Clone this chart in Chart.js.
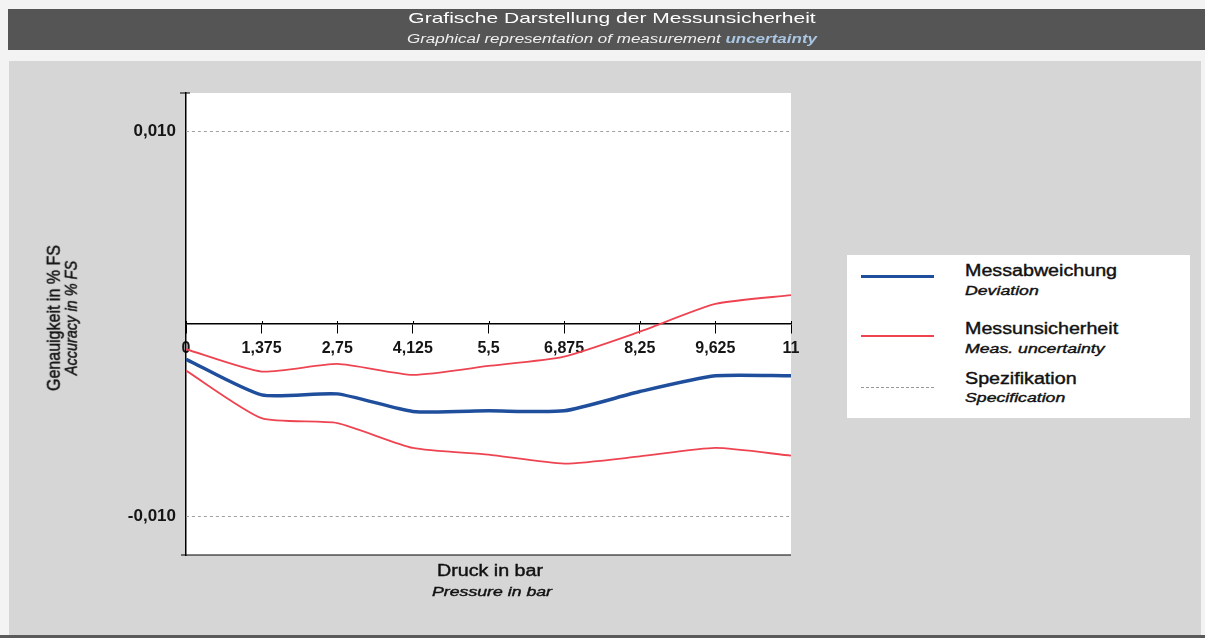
<!DOCTYPE html>
<html>
<head>
<meta charset="utf-8">
<script src="https://cdn.jsdelivr.net/npm/chart.js@4.4.0/dist/chart.umd.min.js"></script>
<style>
  html, body { margin: 0; padding: 0; }
  body {
    width: 1205px; height: 638px; overflow: hidden; position: relative;
    background: #f3f3f3; font-family: "Liberation Sans", Arial, sans-serif; color: #111;
  }
  .abs { position: absolute; white-space: nowrap; }
  #band { left: 8px; top: 9px; width: 1197px; height: 41px; background: #555; }
  #panel { left: 9px; top: 61px; width: 1192px; height: 574px; background: #d6d6d6; }
  #bottomline { left: 0; top: 635px; width: 1205px; height: 3px; background: #5a5a5a; }
  #chart { position: absolute; left: 0; top: 0; z-index: 1; }
  .txt { z-index: 2; line-height: 1; }
  .wide { display: inline-block; }
  .dark { -webkit-text-stroke: 0.4px #111; }
  .centered { transform: translateX(-50%); }
  #legend { left: 847px; top: 255px; width: 343px; height: 163px; background: #fff; z-index: 1; }
  .sample { position: absolute; left: 861px; width: 73px; z-index: 2; }
  #ytitle {
    left: 62px; top: 318px; z-index: 2; text-align: center;
    transform: translate(-50%, -50%) rotate(-90deg) scaleY(1.2);
  }
  #ytitle div { line-height: 15px; white-space: nowrap; }
</style>
</head>
<body>
<div id="band" class="abs"></div>
<div id="panel" class="abs"></div>
<div id="bottomline" class="abs"></div>

<div class="abs txt centered" style="left:612px; top:10px;">
  <span class="wide" style="font-size:15px; color:#fff; transform:scaleX(1.4);">Grafische Darstellung der Messunsicherheit</span>
</div>
<div class="abs txt centered" style="left:612px; top:30px;">
  <span class="wide" style="font-size:12.5px; font-style:italic; color:#f0f0f0; transform:scaleX(1.36);">Graphical representation of measurement <b style="color:#aac6e2;">uncertainty</b></span>
</div>

<canvas id="chart" width="1205" height="638"></canvas>

<div id="ytitle" class="abs">
  <div class="dark" style="font-size:16px;">Genauigkeit in % FS</div>
  <div class="dark" style="font-size:14.5px; font-style:italic;">Accuracy in % FS</div>
</div>

<div class="abs txt centered" style="left:490px; top:563px;">
  <span class="wide dark" style="font-size:16px; transform:scaleX(1.23);">Druck in bar</span>
</div>
<div class="abs txt centered" style="left:492px; top:583px;">
  <span class="wide dark" style="font-size:13.5px; font-style:italic; transform:scaleX(1.31);">Pressure in bar</span>
</div>

<div id="legend" class="abs"></div>
<div class="sample" style="top:275px; border-top:3.5px solid #1f4f9c;"></div>
<div class="sample" style="top:335px; border-top:2px solid #ee4452;"></div>
<div class="sample" style="top:387px; border-top:1px dashed #999;"></div>

<div class="abs txt" style="left:965px; top:263px;">
  <span class="wide dark" style="font-size:16px; transform:scaleX(1.23); transform-origin:left;">Messabweichung</span>
</div>
<div class="abs txt" style="left:965px; top:282px;">
  <span class="wide dark" style="font-size:13.5px; font-style:italic; transform:scaleX(1.31); transform-origin:left;">Deviation</span>
</div>
<div class="abs txt" style="left:965px; top:321px;">
  <span class="wide dark" style="font-size:16px; transform:scaleX(1.23); transform-origin:left;">Messunsicherheit</span>
</div>
<div class="abs txt" style="left:965px; top:340px;">
  <span class="wide dark" style="font-size:13.5px; font-style:italic; transform:scaleX(1.31); transform-origin:left;">Meas. uncertainty</span>
</div>
<div class="abs txt" style="left:965px; top:371px;">
  <span class="wide dark" style="font-size:16px; transform:scaleX(1.23); transform-origin:left;">Spezifikation</span>
</div>
<div class="abs txt" style="left:965px; top:389px;">
  <span class="wide dark" style="font-size:13.5px; font-style:italic; transform:scaleX(1.31); transform-origin:left;">Specification</span>
</div>

<script>
// Pressure points (bar) and their axis labels
const pressure = [0, 1.375, 2.75, 4.125, 5.5, 6.875, 8.25, 9.625, 11];
const xTickLabels = ['0', '1,375', '2,75', '4,125', '5,5', '6,875', '8,25', '9,625', '11'];

// Accuracy in % FS
const deviation = [-0.00183, -0.00368, -0.00363, -0.00454, -0.00451, -0.00451, -0.00351, -0.00269, -0.00269];
const uncertaintyUpper = [-0.00131, -0.00247, -0.00207, -0.00264, -0.00218, -0.00169, -0.00040, 0.00104, 0.00150];
const uncertaintyLower = [-0.00242, -0.00489, -0.00515, -0.00644, -0.00679, -0.00725, -0.00688, -0.00644, -0.00684];

// Specification limits
const specPressure = [0, 11];
const specUpper = [0.010, 0.010];
const specLower = [-0.010, -0.010];

const yTickValues = [-0.010, 0.010];
const yTickLabels = ['-0,010', '0,010'];

const toPoints = (xs, ys) => xs.map((x, i) => ({ x: x, y: ys[i] }));

// white plot area plus the black frame pieces
const plotFrame = {
  id: 'plotFrame',
  beforeDraw(chart) {
    const { ctx, chartArea: a } = chart;
    ctx.save();
    ctx.fillStyle = '#fff';
    ctx.fillRect(a.left, a.top, a.right - a.left, a.bottom - a.top);
    ctx.restore();
  },
  afterDraw(chart) {
    const { ctx, chartArea: a, scales } = chart;
    ctx.save();
    ctx.strokeStyle = '#000';
    ctx.lineWidth = 1.5;
    ctx.beginPath();
    ctx.moveTo(a.left - 5, a.bottom);
    ctx.lineTo(a.right, a.bottom);
    ctx.moveTo(a.left - 6, a.top);
    ctx.lineTo(a.left + 4, a.top);
    // tick marks poke a little above the zero line too
    const y0 = scales.y.getPixelForValue(0);
    ctx.lineWidth = 1;
    pressure.forEach(p => {
      const x = Math.round(scales.x.getPixelForValue(p)) + 0.5;
      ctx.moveTo(x, y0 - 3);
      ctx.lineTo(x, y0);
    });
    ctx.stroke();
    ctx.restore();
  }
};

const lineStyle = { pointRadius: 0, fill: false, tension: 0.2 };

new Chart(document.getElementById('chart'), {
  type: 'line',
  data: {
    datasets: [
      Object.assign({ label: 'Messabweichung', data: toPoints(pressure, deviation),
        borderColor: '#1f4f9c', borderWidth: 3.5 }, lineStyle),
      Object.assign({ label: 'Messunsicherheit', data: toPoints(pressure, uncertaintyUpper),
        borderColor: '#ee4452', borderWidth: 1.8 }, lineStyle),
      Object.assign({ label: 'Messunsicherheit', data: toPoints(pressure, uncertaintyLower),
        borderColor: '#ee4452', borderWidth: 1.8 }, lineStyle),
      Object.assign({ label: 'Spezifikation', data: toPoints(specPressure, specUpper),
        borderColor: '#a0a0a0', borderWidth: 1, borderDash: [3, 3] }, lineStyle),
      Object.assign({ label: 'Spezifikation', data: toPoints(specPressure, specLower),
        borderColor: '#a0a0a0', borderWidth: 1, borderDash: [3, 3] }, lineStyle)
    ]
  },
  options: {
    responsive: false,
    animation: false,
    layout: { padding: { left: 0, top: 93, right: 414, bottom: 83 } },
    plugins: { legend: { display: false }, tooltip: { enabled: false } },
    scales: {
      x: {
        type: 'linear',
        min: 0,
        max: 11,
        position: { y: 0 },
        afterBuildTicks: (scale) => { scale.ticks = pressure.map(v => ({ value: v })); },
        afterFit: (scale) => { scale.paddingLeft = 0; scale.paddingRight = 0; },
        grid: { drawOnChartArea: false, drawTicks: true, tickLength: 9, color: '#000', lineWidth: 1 },
        border: { display: true, color: '#000', width: 1.5 },
        ticks: {
          autoSkip: false, maxRotation: 0, padding: 6, color: '#151515',
          font: { family: 'Liberation Sans, Arial', size: 16, weight: 'bold' },
          callback: (value, index) => xTickLabels[index]
        }
      },
      y: {
        type: 'linear',
        min: -0.012,
        max: 0.012,
        afterBuildTicks: (scale) => { scale.ticks = yTickValues.map(v => ({ value: v })); },
        afterFit: (scale) => { scale.width = 186; scale.paddingTop = 0; scale.paddingBottom = 0; },
        grid: { drawOnChartArea: false, drawTicks: false },
        border: { display: true, color: '#000', width: 1.5 },
        ticks: {
          padding: 10, color: '#151515',
          font: { family: 'Liberation Sans, Arial', size: 17, weight: 'bold' },
          callback: (value, index) => yTickLabels[index]
        }
      }
    }
  },
  plugins: [plotFrame]
});
</script>
</body>
</html>
